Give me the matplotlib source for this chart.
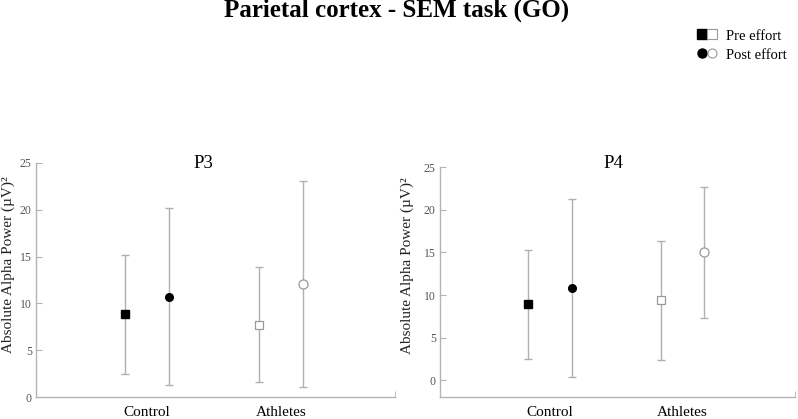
import matplotlib
matplotlib.use("Agg")
import matplotlib.pyplot as plt
import numpy as np
from matplotlib.lines import Line2D
from matplotlib.legend_handler import HandlerTuple

plt.rcParams["font.family"] = ["Liberation Serif", "DejaVu Serif"]

# data (Absolute Alpha Power, µV²)
groups = ["Control", "Athletes"]

p3_pre_mean = [8.84, 7.74]
p3_pre_low = [2.49, 1.67]
p3_pre_high = [15.16, 13.85]
p3_post_mean = [10.72, 12.07]
p3_post_low = [1.35, 1.14]
p3_post_high = [20.13, 23.01]

p4_pre_mean = [8.90, 9.37]
p4_pre_low = [2.55, 2.43]
p4_pre_high = [15.28, 16.30]
p4_post_mean = [10.81, 15.01]
p4_post_low = [0.39, 7.33]
p4_post_high = [21.24, 22.69]

y_ticks = [0, 5, 10, 15, 20, 25]

AXIS_GREY = "#b4b4b4"
BAR_GREY = "#b0b0b0"
TICK_GREY = "#555555"
OPEN_EDGE = "#9a9a9a"


def draw_panel(ax, title, pre, post, ylim, title_pos, label_pos):
    x = np.arange(1, len(groups) + 1)
    offset = 0.165
    for xs, (mean, low, high), marker in (
        (x - offset, pre, "s"),
        (x + offset, post, "o"),
    ):
        mean = np.asarray(mean)
        yerr = [mean - np.asarray(low), np.asarray(high) - mean]
        ax.errorbar(xs, mean, yerr=yerr, fmt="none", ecolor=BAR_GREY,
                    elinewidth=1.0, capsize=3, capthick=1.0, zorder=2)
        # control = filled black, athletes = open
        ax.plot(xs[0], mean[0], marker=marker, ms=5.5, mfc="black",
                mec="black", ls="none", zorder=3)
        ax.plot(xs[1], mean[1], marker=marker, ms=6.5 if marker == "o" else 5.5,
                mfc="white", mec=OPEN_EDGE, mew=0.9, ls="none", zorder=3)

    ax.set_xlim(0.171, 2.85)
    ax.set_ylim(*ylim)
    ax.set_xticks(x)
    ax.set_xticklabels(groups, fontsize=11)
    ax.tick_params(axis="x", length=0, pad=6)
    ax.set_xticks([2.85], minor=True)
    ax.tick_params(axis="x", which="minor", direction="in", length=4,
                   color=AXIS_GREY)
    ax.set_yticks(y_ticks)
    ax.tick_params(axis="y", direction="in", length=4, color=AXIS_GREY,
                   labelsize=8.5, labelcolor=TICK_GREY, pad=3)
    for side in ("top", "right"):
        ax.spines[side].set_visible(False)
    for side in ("left", "bottom"):
        ax.spines[side].set_color(AXIS_GREY)
        ax.spines[side].set_linewidth(1.0)
    ax.spines["left"].set_bounds(ylim[0], 25)
    ax.set_ylabel("Absolute Alpha Power (µV)²", fontsize=11, color="#222222")
    ax.yaxis.set_label_coords(*label_pos)
    ax.set_title(title, fontsize=13.5, x=title_pos[0], y=title_pos[1], pad=0)


fig = plt.figure(figsize=(7.98, 4.19), dpi=100)
ax1 = fig.add_axes([0.0451, 0.0518, 0.450, 0.560])
ax2 = fig.add_axes([0.5514, 0.0518, 0.4449, 0.549])

draw_panel(ax1, "P3", (p3_pre_mean, p3_pre_low, p3_pre_high),
           (p3_post_mean, p3_post_low, p3_post_high), (0, 25),
           title_pos=(0.465, 0.977), label_pos=(-0.058, 0.564))
draw_panel(ax2, "P4", (p4_pre_mean, p4_pre_low, p4_pre_high),
           (p4_post_mean, p4_post_low, p4_post_high), (-2, 25),
           title_pos=(0.487, 0.997), label_pos=(-0.074, 0.571))

fig.text(0.497, 1 - 17 / 419, "Parietal cortex - SEM task (GO)", fontsize=18,
         fontweight="bold", ha="center", va="baseline")

pre_handles = (
    Line2D([], [], marker="s", ms=6.5, mfc="black", mec="black", ls="none"),
    Line2D([], [], marker="s", ms=6.5, mfc="white", mec=OPEN_EDGE, mew=0.8,
           ls="none"),
)
post_handles = (
    Line2D([], [], marker="o", ms=6.5, mfc="black", mec="black", ls="none"),
    Line2D([], [], marker="o", ms=6.5, mfc="white", mec=OPEN_EDGE, mew=0.8,
           ls="none"),
)
fig.legend([pre_handles, post_handles], ["Pre effort", "Post effort"],
           handler_map={tuple: HandlerTuple(ndivide=None, pad=0)},
           loc="upper left", bbox_to_anchor=(0.873, 0.930), frameon=False,
           fontsize=10.5, handlelength=1.44, handletextpad=0.6,
           labelspacing=0.4, borderpad=0, borderaxespad=0)

fig.savefig("out.png", dpi=100)
